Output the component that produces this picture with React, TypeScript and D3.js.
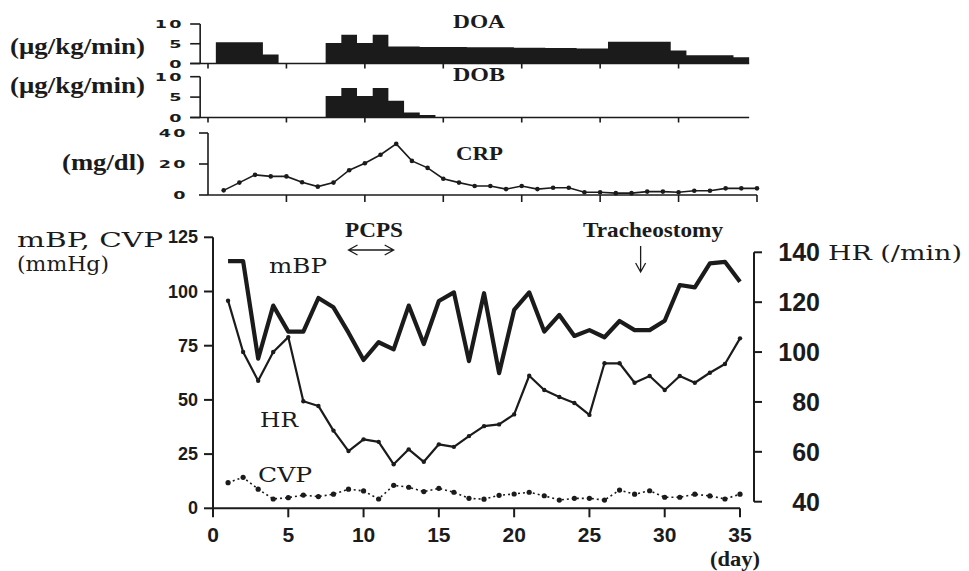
import * as d3 from 'd3';

// daily values, day 1..35
const MBP = [114, 114, 69, 93.5, 81.5, 81.5, 97, 92.7, 81, 68.4, 76.6, 73.3, 93.5, 75.8, 95.6, 99.6, 67.9, 99.2, 62.3, 91.5, 99.6, 81.5, 89.2, 79.5, 82.2, 78.9, 86.4, 82.2, 82.2, 86.5, 103, 101.9, 113, 113.7, 104.5];
const HR = [120.6, 100, 88.5, 100, 106, 80.3, 78.4, 68.5, 60.3, 65, 64, 55, 61, 56, 63, 62, 66.3, 70.3, 71, 75, 90.5, 84.8, 82, 79.6, 74.8, 95.5, 95.5, 87.7, 90.4, 84.8, 90.4, 87.7, 91.7, 95.2, 105.5];
const CVP = [11.8, 14.3, 8.8, 4.3, 4.9, 6.1, 5.4, 6.5, 8.8, 8, 4.3, 10.6, 9.7, 7.7, 9.2, 7.4, 4.6, 4.2, 6, 6.6, 7.4, 5.8, 3.8, 4.6, 4.6, 3.8, 8.4, 6.5, 8.1, 5.1, 5.1, 6.5, 5.7, 4.3, 6.5];
const CRP = [3, 8, 13, 12, 12, 8.2, 5.4, 8, 16, 20.5, 26, 33, 22, 17.5, 10.5, 8, 5.8, 5.8, 3.8, 5.8, 3.8, 4.7, 4.7, 1.8, 1.8, 1.2, 1.2, 2.2, 2.2, 1.8, 2.7, 2.7, 4.3, 4.3, 4.3];
// day 1..34 (µg/kg/min)
const DOA = [5.4, 5.4, 5.4, 2.3, 0, 0, 0, 5.2, 7.3, 5.2, 7.3, 4.3, 4.3, 4.2, 4.2, 4.2, 4.1, 4.1, 4.1, 4.0, 4.0, 3.9, 3.9, 3.8, 3.8, 5.5, 5.5, 5.5, 5.5, 3.3, 2.1, 2.1, 2.1, 1.6];
const DOB = [0, 0, 0, 0, 0, 0, 0, 5.3, 7.2, 5.3, 7.2, 4.1, 1.2, 0.6, 0, 0, 0, 0, 0, 0, 0, 0, 0, 0, 0, 0, 0, 0, 0, 0, 0, 0, 0, 0];

const DAY_TICKS = [0, 5, 10, 15, 20, 25, 30, 35];
const DOSE_TICKS = [0, 5, 10];
const CRP_TICKS = [0, 20, 40];
const LEFT_TICKS = [0, 25, 50, 75, 100, 125];
const RIGHT_TICKS = [40, 60, 80, 100, 120, 140];
const PCPS = [9, 12];
const TRACHEOSTOMY = 28.4;

const INK = '#1b1b1b';
const SERIF = '"DejaVu Serif", serif';
const BSERIF = '"Liberation Serif", "Times New Roman", serif';
const SANS = '"Liberation Sans", Arial, sans-serif';

const xTop = d3.scaleLinear().domain([0, 35]).range([208, 757]);
const yDOA = d3.scaleLinear().domain([0, 10]).range([63.5, 24]);
const yDOB = d3.scaleLinear().domain([0, 10]).range([117.5, 76.7]);
const yCRP = d3.scaleLinear().domain([0, 40]).range([195, 133]);
const x = d3.scaleLinear().domain([0, 35]).range([213, 740]);
const yL = d3.scaleLinear().domain([0, 125]).range([508.3, 237.3]);
const yR = d3.scaleLinear().domain([40, 140]).range([501.7, 252.3]);

function WideNum({ x, y, text }: { x: number; y: number; text: string }) {
  return (
    <text transform={`translate(${x},${y}) scale(1.6,1)`} textAnchor="end" dominantBaseline="central"
      fontFamily='"DejaVu Sans", sans-serif' fontWeight="bold" fontSize={11} letterSpacing={1.5} fill={INK}>
      {text}
    </text>
  );
}

function DosePanel({ values, y, label, unitY }: { values: number[]; y: d3.ScaleLinear<number, number>; label: string; unitY: number }) {
  const pts: [number, number][] = values.map((v, i) => [i + 0.5, v]);
  pts.push([values.length + 0.5, values[values.length - 1]]);
  const area = d3.area<[number, number]>()
    .x((d) => xTop(d[0]))
    .y0(y(0))
    .y1((d) => y(d[1]))
    .curve(d3.curveStepAfter)(pts);
  const left = xTop(-0.5);
  const right = xTop(values.length + 0.5);
  return (
    <g>
      <path d={area ?? ''} fill={INK} />
      <line x1={left} x2={left} y1={y(10)} y2={y(0)} stroke={INK} strokeWidth={1.6} />
      <line x1={left - 10} x2={right} y1={y(0)} y2={y(0)} stroke={INK} strokeWidth={1.6} />
      {DOSE_TICKS.map((t) => (
        <g key={t}>
          <line x1={left - 10} x2={left} y1={y(t)} y2={y(t)} stroke={INK} strokeWidth={1.6} />
          <WideNum x={184} y={y(t)} text={String(t)} />
        </g>
      ))}
      {DAY_TICKS.filter((d) => d <= 30).map((d) => (
        <line key={d} x1={xTop(d)} x2={xTop(d)} y1={y(0)} y2={y(0) + 5} stroke={INK} strokeWidth={1.6} />
      ))}
      <text x={453} y={y(10) + 4} fontFamily={BSERIF} fontWeight="bold" fontSize={19} textLength={52} lengthAdjust="spacingAndGlyphs" fill={INK}>{label}</text>
      <text x={10} y={unitY} fontFamily={BSERIF} fontWeight="bold" fontSize={23} textLength={135} lengthAdjust="spacingAndGlyphs" fill={INK}>(μg/kg/min)</text>
    </g>
  );
}

export default function App() {
  const crpLine = d3.line<number>().x((_, i) => xTop(i + 1)).y((d) => yCRP(d))(CRP) ?? '';
  const mbpLine = d3.line<number>().x((_, i) => x(i + 1)).y((d) => yL(d))(MBP) ?? '';
  const hrLine = d3.line<number>().x((_, i) => x(i + 1)).y((d) => yR(d))(HR) ?? '';
  const cvpLine = d3.line<number>().x((_, i) => x(i + 1)).y((d) => yL(d))(CVP) ?? '';

  const pL = x(PCPS[0]);
  const pR = x(PCPS[1]);
  const pY = 250;
  const tx = x(TRACHEOSTOMY);

  return (
    <svg width={969} height={571} style={{ position: 'absolute', left: 0, top: 0, background: '#fff' }}>
      <rect width={969} height={571} fill="#fff" />

      <DosePanel values={DOA} y={yDOA} label="DOA" unitY={54} />
      <DosePanel values={DOB} y={yDOB} label="DOB" unitY={93} />

      {/* CRP */}
      <g>
        <line x1={xTop(0)} x2={xTop(0)} y1={yCRP(40)} y2={yCRP(0)} stroke={INK} strokeWidth={1.6} />
        <line x1={xTop(0)} x2={xTop(35)} y1={yCRP(0)} y2={yCRP(0)} stroke={INK} strokeWidth={1.6} />
        {CRP_TICKS.map((t) => (
          <g key={t}>
            <line x1={xTop(0) - 9} x2={xTop(0)} y1={yCRP(t)} y2={yCRP(t)} stroke={INK} strokeWidth={1.6} />
            <WideNum x={188} y={yCRP(t)} text={String(t)} />
          </g>
        ))}
        {DAY_TICKS.filter((d) => d > 0).map((d) => (
          <line key={d} x1={xTop(d)} x2={xTop(d)} y1={yCRP(0)} y2={yCRP(0) + 7} stroke={INK} strokeWidth={1.6} />
        ))}
        <path d={crpLine} fill="none" stroke={INK} strokeWidth={1.6} />
        {CRP.map((v, i) => <circle key={i} cx={xTop(i + 1)} cy={yCRP(v)} r={2.3} fill={INK} />)}
        <text x={456} y={160} fontFamily={BSERIF} fontWeight="bold" fontSize={19} textLength={47} lengthAdjust="spacingAndGlyphs" fill={INK}>CRP</text>
        <text x={62} y={170} fontFamily={BSERIF} fontWeight="bold" fontSize={23} textLength={83} lengthAdjust="spacingAndGlyphs" fill={INK}>(mg/dl)</text>
      </g>

      {/* main axes */}
      <g>
        <line x1={x(0)} x2={x(0)} y1={yL(125)} y2={yL(0)} stroke={INK} strokeWidth={2} />
        <line x1={x(0)} x2={x(35)} y1={yL(0)} y2={yL(0)} stroke={INK} strokeWidth={2} />
        {LEFT_TICKS.map((t) => (
          <g key={t}>
            <line x1={x(0) - 9} x2={x(0)} y1={yL(t)} y2={yL(t)} stroke={INK} strokeWidth={2} />
            <text x={198} y={yL(t)} textAnchor="end" dominantBaseline="central" fontFamily={SANS} fontWeight="bold" fontSize={18} fill={INK}>{t}</text>
          </g>
        ))}
        {DAY_TICKS.map((d) => (
          <g key={d}>
            <line x1={x(d)} x2={x(d)} y1={yL(0)} y2={yL(0) + 9} stroke={INK} strokeWidth={2} />
            <text x={x(d)} y={542} textAnchor="middle" fontFamily={SANS} fontWeight="bold" fontSize={21} fill={INK}>{d}</text>
          </g>
        ))}
        <line x1={754} x2={754} y1={yR(140)} y2={yR(40)} stroke={INK} strokeWidth={2} />
        {RIGHT_TICKS.map((t) => (
          <g key={t}>
            <line x1={754} x2={762} y1={yR(t)} y2={yR(t)} stroke={INK} strokeWidth={2} />
            <text x={820} y={yR(t)} textAnchor="end" dominantBaseline="central" fontFamily={SANS} fontWeight="bold" fontSize={25} fill={INK}>{t}</text>
          </g>
        ))}
      </g>

      {/* series */}
      <path d={cvpLine} fill="none" stroke={INK} strokeWidth={1.6} strokeDasharray="2,3" />
      {CVP.map((v, i) => <circle key={i} cx={x(i + 1)} cy={yL(v)} r={2.6} fill={INK} />)}
      <path d={hrLine} fill="none" stroke={INK} strokeWidth={2.2} strokeLinejoin="round" />
      {HR.map((v, i) => <circle key={i} cx={x(i + 1)} cy={yR(v)} r={2.2} fill={INK} />)}
      <path d={mbpLine} fill="none" stroke={INK} strokeWidth={4.2} strokeLinejoin="round" />

      {/* annotations */}
      <text x={345} y={237} fontFamily={BSERIF} fontWeight="bold" fontSize={21} textLength={58} lengthAdjust="spacingAndGlyphs" fill={INK}>PCPS</text>
      <path d={`M${pL},${pY}H${pR}M${pL + 9},${pY - 5}L${pL},${pY}L${pL + 9},${pY + 5}M${pR - 9},${pY - 5}L${pR},${pY}L${pR - 9},${pY + 5}`}
        fill="none" stroke={INK} strokeWidth={1.3} />
      <text x={583} y={237} fontFamily={BSERIF} fontWeight="bold" fontSize={21} textLength={140} lengthAdjust="spacingAndGlyphs" fill={INK}>Tracheostomy</text>
      <path d={`M${tx},246V272M${tx - 5},263L${tx},272L${tx + 5},263`} fill="none" stroke={INK} strokeWidth={1.3} />

      <text x={17} y={247} fontFamily={SERIF} fontSize={20} textLength={146} lengthAdjust="spacingAndGlyphs" fill={INK}>mBP, CVP</text>
      <text x={17} y={271} fontFamily={SERIF} fontSize={20} textLength={92} lengthAdjust="spacingAndGlyphs" fill={INK}>(mmHg)</text>
      <text x={269} y={273} fontFamily={SERIF} fontSize={20} textLength={58} lengthAdjust="spacingAndGlyphs" fill={INK}>mBP</text>
      <text x={260} y={427} fontFamily={SERIF} fontSize={20} textLength={38} lengthAdjust="spacingAndGlyphs" fill={INK}>HR</text>
      <text x={258} y={482} fontFamily={SERIF} fontSize={20} textLength={54} lengthAdjust="spacingAndGlyphs" fill={INK}>CVP</text>
      <text x={828} y={260} fontFamily={SERIF} fontSize={20} textLength={134} lengthAdjust="spacingAndGlyphs" fill={INK}>HR (/min)</text>
      <text x={710} y={566} fontFamily={BSERIF} fontWeight="bold" fontSize={20} textLength={50} lengthAdjust="spacingAndGlyphs" fill={INK}>(day)</text>
    </svg>
  );
}
